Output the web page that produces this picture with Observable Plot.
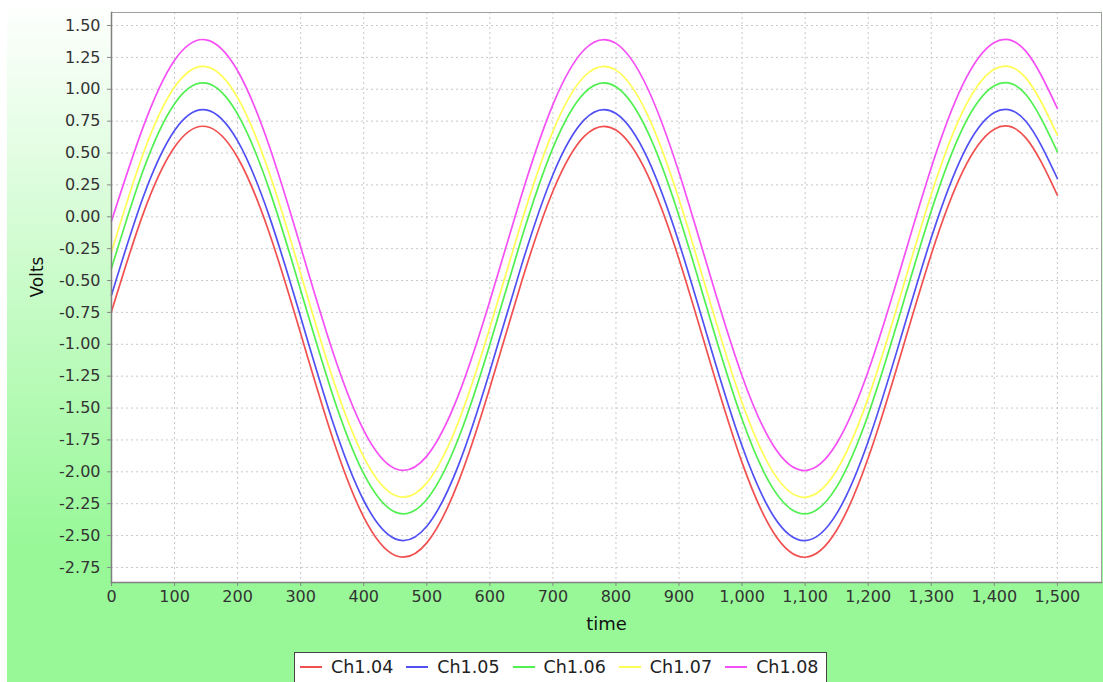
<!DOCTYPE html>
<html>
<head>
<meta charset="utf-8">
<script src="https://cdn.jsdelivr.net/npm/d3@7"></script>
<script src="https://cdn.jsdelivr.net/npm/@observablehq/plot@0.6"></script>
<style>
  html, body { margin: 0; padding: 0; }
  body { width: 1103px; height: 682px; overflow: hidden; font-family: "DejaVu Sans", sans-serif; }
  #wrap { position: relative; width: 1103px; height: 682px; overflow: hidden;
          background: linear-gradient(to bottom, #ffffff 0%, #98f898 80%, #98f898 100%); }
  #strip { position: absolute; left: 0; top: 0; width: 7px; height: 682px; background: #ffffff; }
  #chart { position: absolute; left: 0; top: 0; }
  #legend { position: absolute; left: 294px; top: 652px; height: 40px; box-sizing: border-box;
            background: #ffffff; border: 1px solid #444; display: flex; align-items: flex-start;
            padding: 3px 8px 0 5px; font-size: 17.5px; color: #222; white-space: nowrap; }
  .item { display: flex; align-items: center; margin-right: 13px; height: 22px; }
  .item:last-child { margin-right: 0; }
  .sw { width: 22px; height: 2px; margin-right: 9px; }
</style>
</head>
<body>
<div id="wrap">
  <div id="strip"></div>
  <div id="chart"></div>
  <div id="legend"></div>
</div>
<script>
// ---- data ----
const channels = ["Ch1.04", "Ch1.05", "Ch1.06", "Ch1.07", "Ch1.08"];
const colors = ["#f25050", "#5050f5", "#50f050", "#ffff55", "#f550f5"];
const time = [0, 50, 100, 150, 200, 250, 300, 350, 400, 450, 500, 550, 600, 650, 700, 750,
              800, 850, 900, 950, 1000, 1050, 1100, 1150, 1200, 1250, 1300, 1350, 1400, 1450, 1500];
const ch104 = [-0.744, 0.021, 0.547, 0.708, 0.465, -0.123, -0.916, -1.725, -2.355, -2.656, -2.557,
               -2.081, -1.341, -0.515, 0.200, 0.632, 0.680, 0.330, -0.333, -1.151, -1.928, -2.478,
               -2.670, -2.458, -1.892, -1.109, -0.295, 0.356, 0.687, 0.619, 0.170];
const ch105 = [-0.614, 0.151, 0.677, 0.838, 0.595, 0.007, -0.786, -1.595, -2.225, -2.526, -2.427,
               -1.951, -1.211, -0.385, 0.330, 0.762, 0.810, 0.460, -0.203, -1.021, -1.798, -2.348,
               -2.540, -2.328, -1.762, -0.979, -0.165, 0.486, 0.817, 0.749, 0.300];
const ch106 = [-0.404, 0.361, 0.887, 1.048, 0.805, 0.217, -0.576, -1.385, -2.015, -2.316, -2.217,
               -1.741, -1.001, -0.175, 0.540, 0.972, 1.020, 0.670, 0.007, -0.811, -1.588, -2.138,
               -2.330, -2.118, -1.552, -0.769, 0.045, 0.696, 1.027, 0.959, 0.510];
const ch107 = [-0.274, 0.491, 1.017, 1.178, 0.935, 0.347, -0.446, -1.255, -1.885, -2.186, -2.087,
               -1.611, -0.871, -0.045, 0.670, 1.102, 1.150, 0.800, 0.137, -0.681, -1.458, -2.008,
               -2.200, -1.988, -1.422, -0.639, 0.175, 0.826, 1.157, 1.089, 0.640];
const ch108 = [-0.034, 0.701, 1.227, 1.388, 1.145, 0.557, -0.236, -1.045, -1.675, -1.976, -1.877,
               -1.401, -0.661, 0.165, 0.880, 1.312, 1.360, 1.010, 0.347, -0.471, -1.248, -1.798,
               -1.990, -1.778, -1.212, -0.429, 0.385, 1.036, 1.367, 1.299, 0.850];
const xTicks = d3.range(0, 1501, 100);
const yTicks = d3.range(-2.75, 1.51, 0.25);
const xDomain = [0, 1570];
const yDomain = [-2.868, 1.602];

// ---- build table ----
const series = [ch104, ch105, ch106, ch107, ch108];
const data = [];
channels.forEach((c, i) => time.forEach((t, j) => data.push({ch: c, t, v: series[i][j]})));

const grid = {stroke: "#c8c8c8", strokeOpacity: 1, strokeDasharray: "2,3", strokeWidth: 1};

const chart = Plot.plot({
  width: 1103,
  height: 645,
  marginLeft: 111,
  marginRight: 2,
  marginTop: 12,
  marginBottom: 63,
  style: {background: "transparent", fontFamily: "DejaVu Sans", fontSize: "16px", color: "#000"},
  x: {domain: xDomain, label: null},
  y: {domain: yDomain, label: null},
  color: {domain: channels, range: colors},
  marks: [
    Plot.frame({fill: "#ffffff", stroke: null}),
    Plot.gridX(xTicks, grid),
    Plot.gridY(yTicks, grid),
    Plot.frame({stroke: "#a0a0a0"}),
    Plot.line(data, {x: "t", y: "v", stroke: "ch", z: "ch", curve: "natural", strokeWidth: 1.7}),
    Plot.axisX(xTicks, {tickSize: 4, tickPadding: 4, tickFormat: d3.format(","), fill: "#333", stroke: "#888", fontSize: 16}),
    Plot.axisY(yTicks, {tickSize: 4, tickPadding: 7, tickFormat: d => d.toFixed(2), fill: "#333", stroke: "#888", fontSize: 16}),
    Plot.frame({anchor: "left", stroke: "#808080", strokeWidth: 1.5}),
    Plot.frame({anchor: "bottom", stroke: "#808080", strokeWidth: 1.5}),
    Plot.text(["time"], {frameAnchor: "bottom", dy: 47, fontSize: 18, fill: "#111"}),
    Plot.text(["Volts"], {frameAnchor: "left", dx: -74, rotate: -90, fontSize: 17, fill: "#111"})
  ]
});
document.getElementById("chart").appendChild(chart);

// ---- legend ----
const legend = document.getElementById("legend");
channels.forEach((c, i) => {
  const item = document.createElement("div");
  item.className = "item";
  const sw = document.createElement("div");
  sw.className = "sw";
  sw.style.background = colors[i];
  const lab = document.createElement("span");
  lab.textContent = c;
  item.appendChild(sw);
  item.appendChild(lab);
  legend.appendChild(item);
});
</script>
</body>
</html>
